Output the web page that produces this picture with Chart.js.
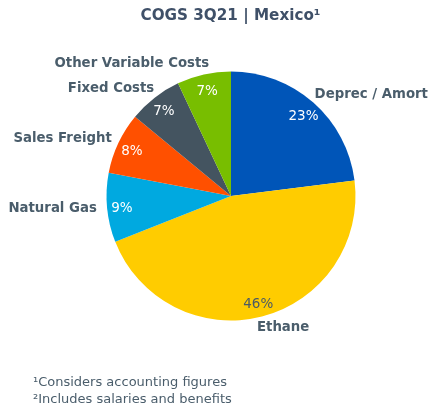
<!DOCTYPE html>
<html>
<head>
<meta charset="utf-8">
<script src="https://cdn.jsdelivr.net/npm/chart.js@4"></script>
<style>
  html, body { margin: 0; padding: 0; background: #ffffff; }
  #wrap { position: relative; width: 432px; height: 410px; }
</style>
</head>
<body>
<div id="wrap"><canvas id="c" width="432" height="410"></canvas></div>
<script>
// COGS breakdown, 3Q21, Mexico (share of total, %)
const categories = ['Deprec / Amort', 'Ethane', 'Natural Gas', 'Sales Freight', 'Fixed Costs', 'Other Variable Costs'];
const shares = [23, 46, 9, 8, 7, 7];
const sliceColors = ['#0055B8', '#FFCC00', '#00A9E0', '#FF5000', '#445460', '#78BE00'];
const valueColors = ['#ffffff', '#4a5a66', '#ffffff', '#ffffff', '#ffffff', '#ffffff'];
const titleText = 'COGS 3Q21 | Mexico\u00B9';
const footnotes = ['\u00B9Considers accounting figures', '\u00B2Includes salaries and benefits'];

const TEXT_SLATE = '#4a5d6b';
const TITLE_SLATE = '#3f5068';

// Draws the title, per-slice labels and footnotes around the pie
const labelPlugin = {
  id: 'sliceLabels',
  afterDatasetsDraw(chart) {
    const ctx = chart.ctx;
    const meta = chart.getDatasetMeta(0);
    ctx.save();

    // title
    ctx.fillStyle = TITLE_SLATE;
    ctx.font = 'bold 15.2px "DejaVu Sans"';
    ctx.textAlign = 'center';
    ctx.textBaseline = 'middle';
    ctx.fillText(titleText, 230.5, 16);

    meta.data.forEach((arc, i) => {
      const { x, y, startAngle, endAngle, outerRadius } = arc.getProps(['x', 'y', 'startAngle', 'endAngle', 'outerRadius'], true);
      const mid = (startAngle + endAngle) / 2;
      const dx = Math.cos(mid), dy = Math.sin(mid);

      // percentage inside, near the rim
      const rIn = outerRadius * 0.88;
      ctx.font = '13.5px "DejaVu Sans"';
      ctx.fillStyle = valueColors[i];
      ctx.textAlign = 'center';
      ctx.textBaseline = 'middle';
      ctx.fillText(shares[i] + '%', x + dx * rIn, y + dy * rIn + 2.5);

      // category name outside, pulled slightly toward the vertical axis
      const rOut = outerRadius + 11;
      const pull = 8 * Math.abs(dy) * (dx >= 0 ? -1 : 1);
      ctx.font = 'bold 13.3px "DejaVu Sans"';
      ctx.fillStyle = TEXT_SLATE;
      ctx.textAlign = dx >= 0 ? 'left' : 'right';
      ctx.fillText(categories[i], x + dx * rOut + pull, y + dy * rOut);
    });

    // footnotes
    ctx.font = '13px "DejaVu Sans"';
    ctx.fillStyle = TEXT_SLATE;
    ctx.textAlign = 'left';
    ctx.textBaseline = 'middle';
    footnotes.forEach((t, k) => ctx.fillText(t, 33, 382.5 + k * 17));

    ctx.restore();
  }
};

new Chart(document.getElementById('c'), {
  type: 'pie',
  data: {
    labels: categories,
    datasets: [{
      data: shares,
      backgroundColor: sliceColors,
      borderWidth: 0
    }]
  },
  options: {
    responsive: false,
    animation: false,
    layout: { padding: { top: 71.5, bottom: 89.5, left: 106.5, right: 76.5 } },
    plugins: {
      legend: { display: false },
      tooltip: { enabled: false },
      title: { display: false }
    }
  },
  plugins: [labelPlugin]
});
</script>
</body>
</html>
